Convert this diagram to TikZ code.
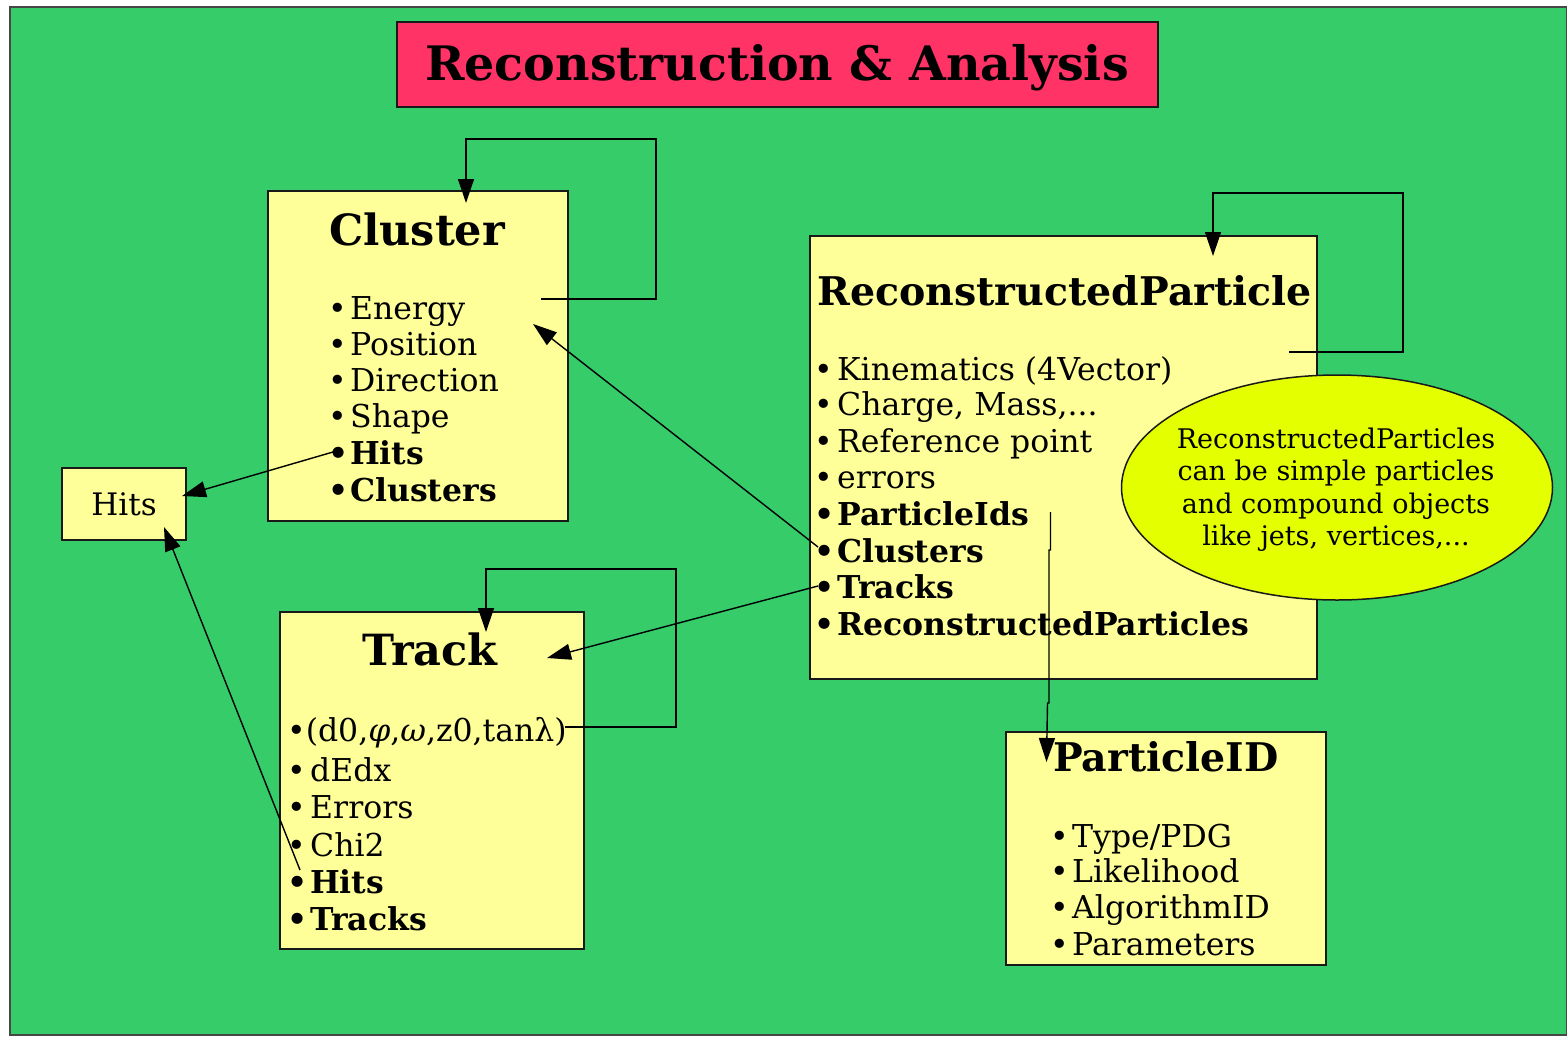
\documentclass[tikz,border=0pt]{standalone}
\usepackage{fontspec}
\setmainfont{DejaVu Serif}
\usetikzlibrary{arrows.meta,shapes.geometric}
\definecolor{bggreen}{RGB}{54,204,106}
\definecolor{titlered}{RGB}{255,51,102}
\definecolor{boxyellow}{RGB}{255,255,153}
\definecolor{ellyellow}{RGB}{228,255,0}
\definecolor{edge}{RGB}{25,25,25}
\newcommand\bul[1]{\makebox[#1][l]{•}}
\begin{document}
\begin{tikzpicture}[x=1pt,y=-1pt,
  box/.style={draw=edge,line width=1.8pt,fill=boxyellow,rectangle,inner sep=0pt},
  hd/.style={anchor=base,inner sep=0pt,font=\fontsize{43}{43}\selectfont\bfseries},
  hds/.style={anchor=base west,inner sep=0pt,font=\fontsize{39.5}{40}\selectfont\bfseries},
  itm/.style={anchor=base west,inner sep=0pt,font=\fontsize{31.5}{32}\selectfont},
  bitm/.style={itm,font=\fontsize{31.5}{32}\selectfont\bfseries},
  ntxt/.style={anchor=base,inner sep=0pt,font=\fontsize{27}{28}\selectfont},
  conn/.style={draw=black,line width=1.4pt,-{Triangle[length=24pt,width=16pt]}}]
\useasboundingbox (0,0) rectangle (1567,1037);
\fill[white] (0,0) rectangle (1567,1037);
\draw[fill=bggreen,draw=edge!80,line width=1.5pt] (10,7) rectangle (1567,1035);
% title
\node[draw=edge,line width=1.8pt,fill=titlered,minimum width=761pt,minimum height=85pt,inner sep=0pt] (title) at (777.5,64.5) {};
\node[anchor=base,inner sep=0pt,font=\fontsize{47.5}{48}\selectfont\bfseries] (titletext) at (777,80) {Reconstruction \& Analysis};
% boxes
\node[box,minimum width=300pt,minimum height=330pt] (cluster) at (418,356) {};
\node[box,minimum width=124pt,minimum height=72pt] (hits) at (124,504) {};
\node[box,minimum width=304pt,minimum height=337pt] (track) at (432,780.5) {};
\node[box,minimum width=507pt,minimum height=443pt] (rp) at (1063.5,457.5) {};
\node[box,minimum width=320pt,minimum height=233pt] (pid) at (1166,848.5) {};
\node[draw=edge,line width=1.5pt,fill=ellyellow,ellipse,minimum width=431pt,minimum height=225pt,inner sep=0pt] (note) at (1337,487.5) {};
% Cluster
\node[hd] (clt) at (417,245) {Cluster};
\node[itm] (cl1) at (328,319) {\bul{22pt}Energy};
\node[itm] (cl2) at (328,355) {\bul{22pt}Position};
\node[itm] (cl3) at (328,391) {\bul{22pt}Direction};
\node[itm] (cl4) at (328,427) {\bul{22pt}Shape};
\node[bitm] (cl5) at (328,464) {\bul{22pt}Hits};
\node[bitm] (cl6) at (328,501) {\bul{22pt}Clusters};
% Hits
\node[anchor=base,inner sep=0pt,font=\fontsize{31}{32}\selectfont] (hitst) at (124,515) {Hits};
% Track
\node[hd] (trt) at (430,665) {Track};
\node[itm] (tr1) at (287,741) {•(d0,\textit{φ},\textit{ω},z0,tanλ)};
\node[itm] (tr2) at (287,781) {\bul{23pt}dEdx};
\node[itm] (tr3) at (287,818) {\bul{23pt}Errors};
\node[itm] (tr4) at (287,856) {\bul{23pt}Chi2};
\node[bitm] (tr5) at (287,893) {\bul{23pt}Hits};
\node[bitm] (tr6) at (287,930) {\bul{23pt}Tracks};
% ReconstructedParticle
\node[hds] (rpt) at (817,305) {ReconstructedParticle};
\node[itm] (rp1) at (814,380) {\bul{23pt}Kinematics (4Vector)};
\node[itm] (rp2) at (814,415) {\bul{23pt}Charge, Mass,...};
\node[itm] (rp3) at (814,452) {\bul{23pt}Reference point};
\node[itm] (rp4) at (814,488) {\bul{23pt}errors};
\node[bitm] (rp5) at (814,525) {\bul{23pt}ParticleIds};
\node[bitm] (rp6) at (814,562) {\bul{23pt}Clusters};
\node[bitm] (rp7) at (814,598) {\bul{23pt}Tracks};
\node[bitm] (rp8) at (814,635) {\bul{23pt}ReconstructedParticles};
% note text
\node[ntxt] (note1) at (1336,448) {ReconstructedParticles};
\node[ntxt] (note2) at (1336,480) {can be simple particles};
\node[ntxt] (note3) at (1336,513) {and compound objects};
\node[ntxt] (note4) at (1336,545) {like jets, vertices,...};
% ParticleID
\node[hds] (pidt) at (1053,771) {ParticleID};
\node[itm] (pid1) at (1050,847) {\bul{22pt}Type/PDG};
\node[itm] (pid2) at (1050,882) {\bul{22pt}Likelihood};
\node[itm] (pid3) at (1050,918) {\bul{22pt}AlgorithmID};
\node[itm] (pid4) at (1050,955) {\bul{22pt}Parameters};
% connector coordinates
\coordinate (clLoopS) at (541,299);
\coordinate (clLoopR) at (656,299);
\coordinate (clLoopT) at (656,139);
\coordinate (clTop) at (466,203);
\coordinate (clIn) at (533,324);
\coordinate (clHitsB) at (333,452);
\coordinate (hitsIn1) at (182,496);
\coordinate (hitsIn2) at (164,527);
\coordinate (trHitsB) at (300,870);
\coordinate (trLoopS) at (565,727);
\coordinate (trLoopR) at (676,727);
\coordinate (trLoopT) at (676,569);
\coordinate (trTop) at (486,632);
\coordinate (trIn) at (547,658);
\coordinate (rpClB) at (818,547);
\coordinate (rpTrB) at (818,586);
\coordinate (rpLoopS) at (1289,352);
\coordinate (rpLoopR) at (1403,352);
\coordinate (rpLoopT) at (1403,193);
\coordinate (rpTop) at (1213,256);
\coordinate (rpPidS) at (1050.5,512);
\coordinate (pidIn) at (1046.5,762);
% connectors
\draw[conn] (clLoopS) -- (clLoopR) -- (clLoopT) -| (clTop);
\draw[conn] (trLoopS) -- (trLoopR) -- (trLoopT) -| (trTop);
\draw[conn] (rpLoopS) -- (rpLoopR) -- (rpLoopT) -| (rpTop);
\draw[conn] (rpClB) -- (clIn);
\draw[conn] (rpTrB) -- (trIn);
\draw[conn] (clHitsB) -- (hitsIn1);
\draw[conn] (trHitsB) -- (hitsIn2);
\draw[conn] (rpPidS) -- (1050.5,550) -- (1049,550) -- (1049,703) -- (1047.5,703) -- (pidIn);
\end{tikzpicture}
\end{document}
